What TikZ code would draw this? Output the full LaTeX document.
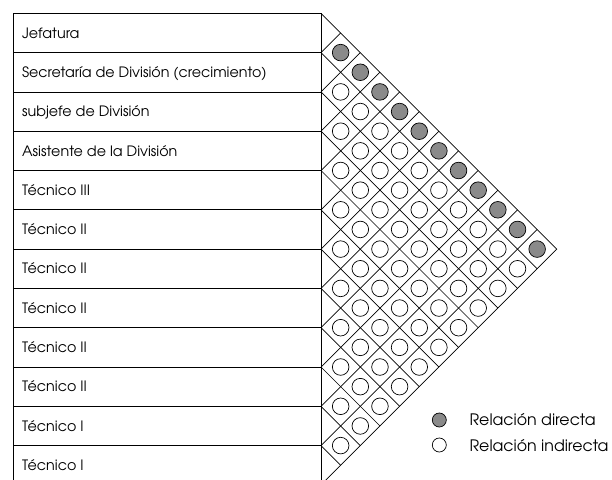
\documentclass[tikz,border=0pt]{standalone}
\usepackage{fontspec}
\setmainfont{texgyreadventor-regular.otf}
\definecolor{relgray}{RGB}{138,138,138}
\begin{document}
\begin{tikzpicture}[x=1pt,y=-1pt, line width=0.7pt,
  rel/.style={circle,draw,minimum size=16.6pt,inner sep=0pt},
  direct/.style={rel,fill=relgray},
  indirect/.style={rel,fill=white},
  leg/.style={minimum size=14pt},
  lbl/.style={anchor=base west,font=\fontsize{14.3}{17}\selectfont,inner sep=0pt},
  leglbl/.style={anchor=base west,font=\fontsize{15.8}{19}\selectfont,inner sep=0pt}]
\path[use as bounding box] (0,0) rectangle (612,479);
\clip (0,0) rectangle (612,479);
\def\h{39.3}\def\t{13.3}\def\xl{13}\def\xr{321}
\foreach \k in {0,...,12} {
  \coordinate (L\k) at (\xl,{\t+\k*\h});
  \coordinate (R\k) at (\xr,{\t+\k*\h});
  \coordinate (P\k) at ({\xr+\k*\h/2},{\t+\k*\h/2});
  \coordinate (Q\k) at ({\xr+\k*\h/2},{\t+12*\h-\k*\h/2});
}
% table
\draw (L0) -- (L12);
\draw (R0) -- (R12);
\foreach \k in {0,...,11} \draw (L\k) -- (R\k);
% triangle outline
\draw (R0) -- (P12) -- (R12);
% diagonal grid
\foreach \k in {1,...,11} {
  \pgfmathtruncatemacro{\m}{12-\k}
  \draw (R\k) -- (P\k);
  \draw (R\k) -- (Q\m);
}
% relation circles
\foreach \i in {0,...,10} {
  \pgfmathtruncatemacro{\js}{\i+1}
  \foreach \j in {\js,...,11} {
    \pgfmathtruncatemacro{\d}{\j-\i}
    \ifnum\i=0
      \node[direct] (c-\i-\j) at ({\xr+\d*\h/2},{\t+(\i+\j+1)*\h/2}) {};
    \else
      \node[indirect] (c-\i-\j) at ({\xr+\d*\h/2},{\t+(\i+\j+1)*\h/2}) {};
    \fi
  }
}
% row labels
\foreach \k/\txt in {0/Jefatura,1/Secretaría de División (crecimiento),2/subjefe de División,3/Asistente de la División,4/Técnico III,5/Técnico II,6/Técnico II,7/Técnico II,8/Técnico II,9/Técnico II,10/Técnico I,11/Técnico I} {
  \node[lbl] (r\k) at (21.7,{\t+(\k+0.5)*\h+5.2}) {\txt};
}
% legend
\node[direct,leg] (ld) at (439.3,420) {};
\node[indirect,leg] (li) at (439.3,445) {};
\node[leglbl] (ldt) at (469.3,425.8) {Relación directa};
\node[leglbl] (lit) at (469.3,451) {Relación indirecta};
\end{tikzpicture}
\end{document}
